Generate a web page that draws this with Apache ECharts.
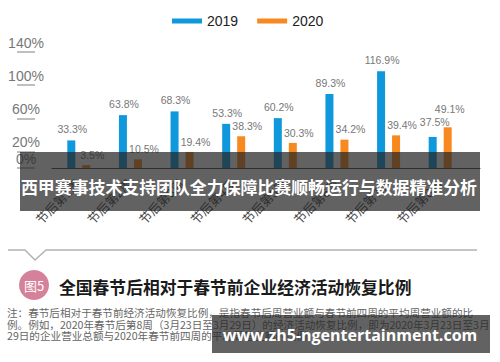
<!DOCTYPE html>
<html>
<head>
<meta charset="utf-8">
<script src="https://cdn.jsdelivr.net/npm/echarts@6/dist/echarts.min.js"></script>
<style>
html,body{margin:0;padding:0;background:#fff;}
#chart{width:500px;height:362px;}
</style>
</head>
<body>
<div id="chart"></div>
<script>
const categories = ['节后第1周','节后第2周','节后第3周','节后第4周','节后第5周','节后第6周','节后第7周','节后第8周'];
const seriesNames = ['2019','2020'];
const values2019 = [33.3, 63.8, 68.3, 53.3, 60.2, 89.3, 116.9, 37.5];
const values2020 = [3.5, 10.5, 19.4, 38.3, 30.3, 34.2, 39.4, 49.1];
const yTickValues = [0, 20, 60, 100, 140];
const bannerText = '西甲赛事技术支持团队全力保障比赛顺畅运行与数据精准分析';
const figureTag = '图5';
const figureTitle = '全国春节后相对于春节前企业经济活动恢复比例';
const noteLines = [
  '注：春节后相对于春节前经济活动恢复比例，是指春节后周营业额与春节前四周的平均周营业额的比',
  '例。例如，2020年春节后第8周（3月23日至3月29日）的经济活动恢复比例，即为2020年3月23日至3月',
  '29日的企业营业总额与2020年春节前四周的平均周营业额的比例。'
];
const watermark = 'www.zh5-ngentertainment.com';

const BLUE = '#0f98dc';
const ORANGE = '#f7891f';
const CJK = '"Liberation Sans", "Noto Sans CJK SC", sans-serif';

const chart = echarts.init(document.getElementById('chart'), null, {renderer: 'svg'});

const labelBase = {show: true, position: 'top', distance: 6, fontSize: 10.5, color: '#777', fontFamily: CJK, formatter: '{c}%'};

const option = {
  backgroundColor: '#fff',
  animation: false,
  legend: {
    data: seriesNames,
    left: 167, top: 9,
    icon: 'rect', itemWidth: 30, itemHeight: 5, itemGap: 19,
    textStyle: {fontSize: 14, color: '#222', fontFamily: CJK}
  },
  grid: [
    {left: 53, right: 34, top: 52, bottom: 194},
    {left: 52, right: 20, top: 52, bottom: 194}
  ],
  xAxis: [
    {
      type: 'category', data: categories, gridIndex: 0,
      axisLine: {show: false}, axisTick: {show: false},
      axisLabel: {interval: 0, rotate: 45, fontSize: 12.5, color: '#444', margin: 14, fontFamily: CJK}
    },
    {
      type: 'value', gridIndex: 1, min: 0, max: 1,
      axisLine: {show: true, lineStyle: {color: '#444', width: 1}},
      axisTick: {show: false}, axisLabel: {show: false}, splitLine: {show: false}
    }
  ],
  yAxis: [
    {
      type: 'value', gridIndex: 0, min: 0, max: 140, interval: 20,
      offset: 18,
      axisLine: {show: false},
      splitLine: {show: false},
      axisTick: {show: true, length: 18, customValues: yTickValues, lineStyle: {color: '#aaa', width: 1.5}},
      axisLabel: {
        customValues: yTickValues, formatter: '{value}%',
        align: 'center', verticalAlign: 'bottom', margin: 9,
        padding: [0, 0, 2, 0],
        fontSize: 14, color: '#777', fontFamily: CJK
      }
    },
    {type: 'value', gridIndex: 1, min: 0, max: 1, show: false}
  ],
  series: [
    {
      name: seriesNames[0], type: 'bar', xAxisIndex: 0, yAxisIndex: 0,
      barWidth: 8, barGap: '87.5%',
      itemStyle: {color: BLUE},
      label: Object.assign({}, labelBase, {offset: [1, 0]}),
      data: values2019.map((v, i) => i === 7 ? {value: v, label: {offset: [2, -4]}} : v)
    },
    {
      name: seriesNames[1], type: 'bar', xAxisIndex: 0, yAxisIndex: 0,
      barWidth: 8,
      itemStyle: {color: ORANGE},
      label: Object.assign({}, labelBase, {distance: 5, offset: [6, 0]}),
      data: values2020.map((v, i) => i === 7 ? {value: v, label: {offset: [2, -8]}} : v)
    }
  ],
  graphic: {
    elements: [
      {type: 'rect', z: 100, shape: {x: 20, y: 152, width: 460, height: 59}, style: {fill: 'rgba(38,38,38,0.72)'}},
      {type: 'text', z: 101, style: {text: bannerText, x: 249, y: 186, textAlign: 'center', textVerticalAlign: 'middle', fill: '#fff', font: 'bold 16.9px "Noto Sans CJK SC", sans-serif'}},
      {type: 'polyline', z: 10, shape: {points: [[8, 250], [25, 250], [35, 260], [46, 250], [477, 250]]}, style: {stroke: '#b3b3b3', lineWidth: 1.5, fill: null}},
      {type: 'circle', z: 10, shape: {cx: 34, cy: 285, r: 15}, style: {fill: '#d6819a'}},
      {type: 'text', z: 11, style: {text: figureTag, x: 34, y: 285, textAlign: 'center', textVerticalAlign: 'middle', fill: '#fff', font: '13px "Noto Sans CJK SC", sans-serif'}},
      {type: 'text', z: 10, style: {text: figureTitle, x: 59, y: 287, textAlign: 'left', textVerticalAlign: 'middle', fill: '#1a1a1a', font: 'bold 16.8px "Noto Sans CJK SC", sans-serif'}},
      {type: 'text', z: 10, style: {text: noteLines[0], x: 7, y: 312.5, textAlign: 'left', textVerticalAlign: 'middle', fill: '#666', font: '10.6px "Noto Sans CJK SC", sans-serif'}},
      {type: 'text', z: 10, style: {text: noteLines[1], x: 7, y: 324, textAlign: 'left', textVerticalAlign: 'middle', fill: '#666', font: '10.6px "Noto Sans CJK SC", sans-serif'}},
      {type: 'text', z: 10, style: {text: noteLines[2], x: 7, y: 335.5, textAlign: 'left', textVerticalAlign: 'middle', fill: '#666', font: '10.6px "Noto Sans CJK SC", sans-serif'}},
      {type: 'rect', z: 100, shape: {x: 212, y: 315, width: 278, height: 38}, style: {fill: 'rgba(38,38,38,0.72)'}},
      {type: 'text', z: 101, style: {text: watermark, x: 350, y: 335, textAlign: 'center', textVerticalAlign: 'middle', fill: '#fff', font: 'bold 16px "Open Sans", sans-serif'}}
    ]
  }
};
chart.setOption(option);
</script>
</body>
</html>
